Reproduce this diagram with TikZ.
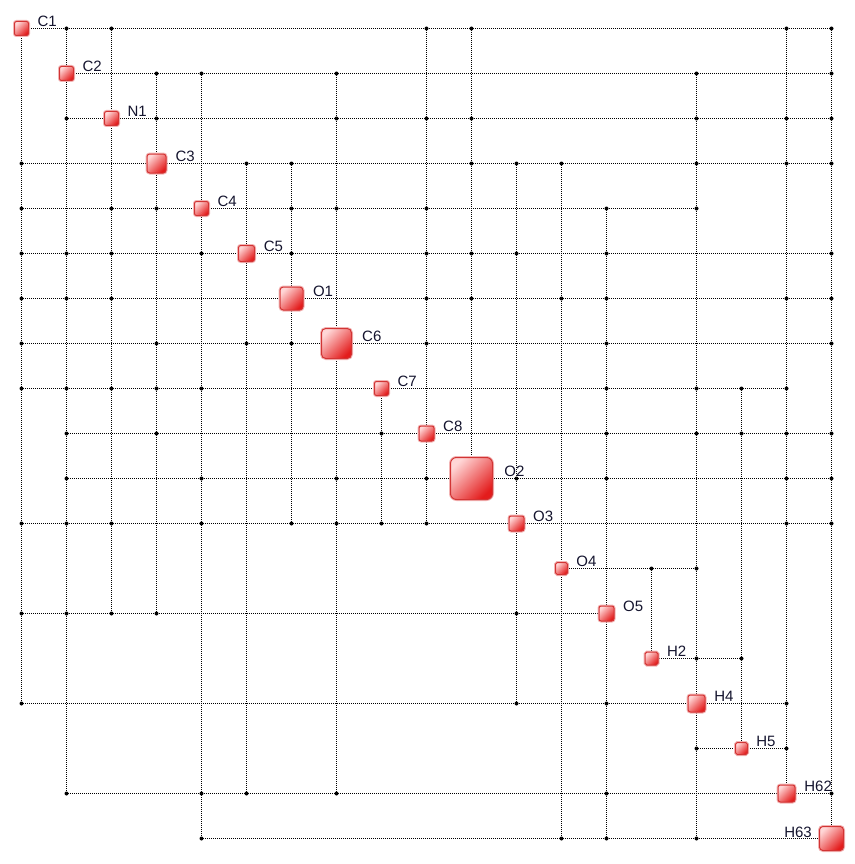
\documentclass[tikz,border=0pt]{standalone}
\usepackage{fontspec}
\setmainfont{Liberation Sans}
\definecolor{atomlight}{HTML}{FFD6D6}
\definecolor{atomdark}{HTML}{E31C1C}
\definecolor{atomborder}{HTML}{D23434}
\definecolor{atomglow}{HTML}{F2B4B4}
\definecolor{labtext}{HTML}{14142E}
\begin{document}
\begin{tikzpicture}[x=1pt,y=-1pt,
  gridline/.style={line width=1.6pt, dash pattern=on 1pt off 1pt, dash phase=0.5pt, black},
  dotmark/.style={fill=black},
  atom/.style={rectangle, draw=atomborder, line width=1pt, preaction={draw=atomglow, line width=3pt}, top color=atomlight, bottom color=atomdark, shading angle=45, minimum size=#1pt, inner sep=0pt},
  lab/.style={inner sep=0pt, font=\fontsize{15}{18}\selectfont, text=labtext}]
\useasboundingbox (0,0) rectangle (854,864);
% grid points
\foreach \i in {0,...,18}{
  \foreach \j in {0,...,18}{
    \coordinate (p-\i-\j) at ({21.5+45*\j},{28.5+45*\i});
  }
}
% row lines
\foreach \i/\a/\b in {0/0/18,1/1/18,2/1/18,3/0/18,4/0/15,5/0/18,6/0/18,7/0/18,8/0/17,9/1/18,10/1/18,11/0/18,12/12/15,13/0/13,14/14/16,15/0/17,16/15/17,17/1/18,18/4/18}{
  \draw[gridline] (p-\i-\a) -- (p-\i-\b);
}
% column lines
\foreach \j/\a/\b in {0/0/15,1/0/17,2/0/13,3/1/13,4/1/18,5/3/17,6/3/11,7/1/17,8/8/11,9/0/11,10/0/10,11/3/15,12/3/18,13/4/18,14/12/14,15/1/18,16/8/16,17/0/17,18/0/18}{
  \draw[gridline] (p-\a-\j) -- (p-\b-\j);
}
% dots
\foreach \i/\lst in {0/{1,2,9,10,17,18},1/{3,4,7,15,18},2/{1,3,7,9,10,15,17,18},3/{0,5,6,10,11,12,15,17,18},4/{0,2,3,6,7,9,13,15},5/{0,1,2,4,6,9,10,11,13,18},6/{0,1,2,9,10,12,13,17,18},7/{0,3,5,6,9,13,18},8/{0,1,2,3,4,13,15,16,17},9/{1,3,8,13,15,16,17,18},10/{1,4,7,9,11,13,17,18},11/{0,1,2,4,6,7,8,9,17,18},12/{14,15},13/{0,1,2,3,11},14/{15,16},15/{0,11,13,17},16/{15,17},17/{1,4,5,7,13,18},18/{4,12,13,15}}{
  \foreach \j in \lst{
    \fill[dotmark] (p-\i-\j) circle (2pt);
  }
}
% atoms
\foreach \n/\k/\s in {C1/0/14,C2/1/14,N1/2/14,C3/3/19,C4/4/14,C5/5/16,O1/6/23,C6/7/30,C7/8/14,C8/9/15,O2/10/42,O3/11/15,O4/12/12,O5/13/15,H2/14/13,H4/15/17,H5/16/12,H62/17/17,H63/18/24}{
  \pgfmathsetmacro\rc{\s/7}
  \node[atom=\s, rounded corners=\rc pt] (\n) at (p-\k-\k) {};
}
% labels
\foreach \n/\s in {C1/14,C2/14,N1/14,C3/19,C4/14,C5/16,O1/23,C6/30,C7/14,C8/15,O2/42,O3/15,O4/12,O5/15,H2/13,H4/17,H5/12,H62/17}{
  \pgfmathsetmacro\gx{7+\s/10}
  \node[lab, anchor=base west] (l\n) at ([xshift=\gx pt, yshift=2pt]\n.east) {\n};
}
\node[lab, anchor=base east] (lH63) at ([xshift=-7pt, yshift=1pt]H63.west) {H63};
\end{tikzpicture}
\end{document}
